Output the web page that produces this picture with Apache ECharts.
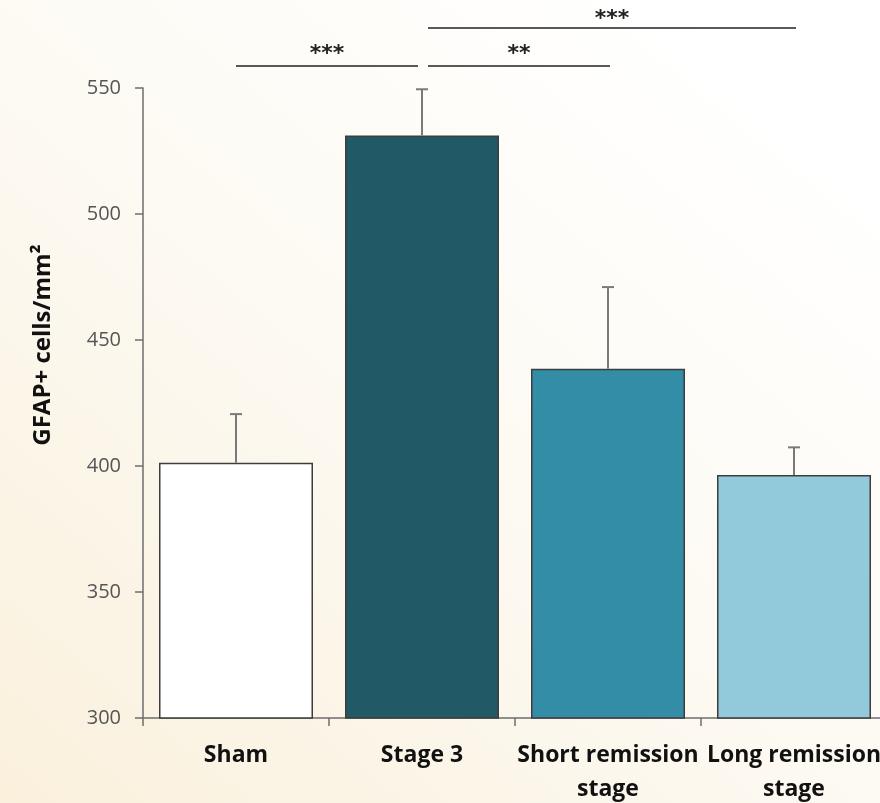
<!DOCTYPE html>
<html>
<head>
<meta charset="utf-8">
<script src="https://cdn.jsdelivr.net/npm/echarts@6/dist/echarts.min.js"></script>
<style>
html,body{margin:0;padding:0;}
#chart{width:880px;height:803px;}
</style>
</head>
<body>
<div id="chart"></div>
<script>
// ---- data ----
var categories = ['Sham', 'Stage 3', 'Short remission\nstage', 'Long remission\nstage'];
var means = [401.3, 531.2, 438.6, 396.4];
var sems = [19.3, 18.3, 32.4, 11.0];
var barColors = ['#ffffff', '#225966', '#348da6', '#92cadb'];
var yTicks = [300, 350, 400, 450, 500, 550];
// significance comparisons: [fromIndex, toIndex, level]
var sigPairs = [[0, 1, 0], [1, 2, 0], [1, 3, 1]];
var sigLabels = ['***', '**', '***'];

var chart = echarts.init(document.getElementById('chart'), null, {renderer: 'canvas'});

var barData = means.map(function (v, i) {
  return {value: v, itemStyle: {color: barColors[i]}};
});
var errData = means.map(function (v, i) { return [i, v, sems[i]]; });

var option = {
  animation: false,
  backgroundColor: {
    type: 'linear', x: 0, y: 1, x2: 0.75, y2: 0,
    colorStops: [{offset: 0, color: '#faf0dc'}, {offset: 0.55, color: '#fdfaf3'}, {offset: 1, color: '#ffffff'}]
  },
  grid: {left: 143, top: 88, width: 744, height: 630, containLabel: false, outerBoundsMode: 'none'},
  xAxis: {
    type: 'category',
    data: categories,
    axisLine: {lineStyle: {color: '#6e6e6e', width: 1.5}},
    axisTick: {show: true, length: 8, lineStyle: {color: '#6e6e6e', width: 1.5}},
    axisLabel: {
      interval: 0, margin: 20, lineHeight: 34,
      fontFamily: 'Open Sans', fontWeight: 'bold', fontSize: 23, color: '#111'
    }
  },
  yAxis: {
    type: 'value', min: yTicks[0], max: yTicks[yTicks.length - 1], interval: 50,
    name: 'GFAP+ cells/mm²', nameLocation: 'middle', nameGap: 88,
    nameTextStyle: {fontFamily: 'Open Sans', fontWeight: 'bold', fontSize: 24, color: '#111', padding: [0, 0, 0, 116]},
    splitLine: {show: false},
    axisLine: {show: true, lineStyle: {color: '#6e6e6e', width: 1.5}},
    axisTick: {show: true, length: 8, lineStyle: {color: '#6e6e6e', width: 1.5}},
    axisLabel: {margin: 22, fontFamily: 'Open Sans', fontSize: 20, color: '#555'}
  },
  series: [
    {
      type: 'bar', data: barData, barWidth: 154,
      itemStyle: {borderColor: '#3d3d3d', borderWidth: 1.5}
    },
    {
      type: 'custom', data: errData, z: 5, clip: false,
      encode: {x: 0, y: 1},
      renderItem: function (params, api) {
        var p0 = api.coord([api.value(0), api.value(1)]);
        var p1 = api.coord([api.value(0), api.value(1) + api.value(2)]);
        var style = {stroke: '#7a7a7a', lineWidth: 2};
        return {type: 'group', children: [
          {type: 'line', shape: {x1: p0[0], y1: p0[1], x2: p1[0], y2: p1[1]}, style: style},
          {type: 'line', shape: {x1: p1[0] - 6, y1: p1[1], x2: p1[0] + 6, y2: p1[1]}, style: style}
        ]};
      }
    },
    {
      type: 'custom', data: sigPairs, z: 6, clip: false,
      encode: {x: 0, y: 2},
      renderItem: function (params, api) {
        var a = api.value(0), b = api.value(1), lvl = api.value(2);
        var top = api.coord([0, yTicks[yTicks.length - 1]])[1];
        var y = top - (lvl ? 60 : 22);
        var x1 = api.coord([a, 0])[0] + (a === 1 ? 6 : 0);
        var x2 = api.coord([b, 0])[0] + (b === 1 ? -4 : 2);
        return {type: 'group', children: [
          {type: 'line', shape: {x1: x1, y1: y, x2: x2, y2: y}, style: {stroke: '#222', lineWidth: 1.5}},
          {type: 'text', x: (x1 + x2) / 2, y: y + (lvl ? 2 : -1), style: {
            text: sigLabels[params.dataIndex], fill: '#222', fontSize: 22, fontWeight: 'bold',
            fontFamily: 'DejaVu Sans', align: 'center', verticalAlign: 'bottom'
          }}
        ]};
      }
    }
  ]
};
chart.setOption(option);
</script>
</body>
</html>
